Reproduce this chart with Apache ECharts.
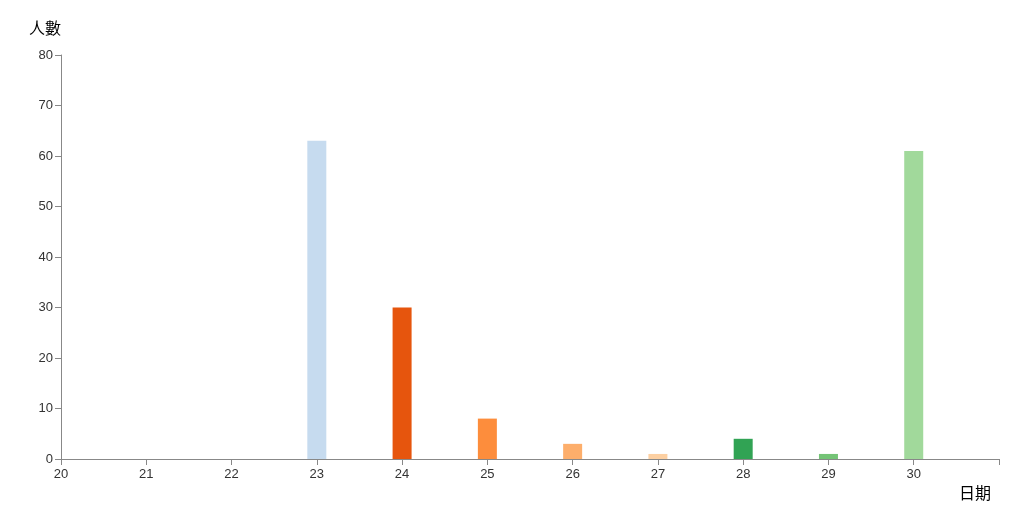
<!DOCTYPE html>
<html>
<head>
<meta charset="utf-8">
<script src="https://cdn.jsdelivr.net/npm/echarts@6/dist/echarts.min.js"></script>
<style>
  html, body { margin: 0; padding: 0; background: #fff; }
  #chart { width: 1024px; height: 526px; }
</style>
</head>
<body>
<div id="chart"></div>
<script>
const days = [21, 22, 23, 24, 25, 26, 27, 28, 29, 30]
const counts = [0, 0, 63, 30, 8, 3, 1, 4, 1, 61]
const barColors = ["#3182bd", "#6baed6", "#c6dbef", "#e6550d", "#fd8d3c", "#fdae6b", "#fdd0a2", "#31a354", "#74c476", "#a1d99b"]

const chart = echarts.init(document.getElementById("chart"))

const axisLine = { lineStyle: { color: "#888", width: 1 } }
const axisLabel = { color: "#333", fontSize: 13, fontFamily: "Liberation Sans, Arial, sans-serif" }

chart.setOption({
  animation: false,
  backgroundColor: "#fff",
  grid: { left: 61, right: 25, top: 55, bottom: 67, containLabel: false },
  xAxis: {
    type: "value",
    min: 20,
    max: 31,
    interval: 1,
    name: "日期",
    nameLocation: "end",
    nameGap: -8,
    nameTextStyle: {
      color: "#000", fontSize: 16, fontFamily: "Noto Sans CJK TC",
      align: "right", verticalAlign: "top", padding: [26, 0, 0, 0]
    },
    axisLine: axisLine,
    axisTick: { show: true, length: 6, lineStyle: { color: "#888" } },
    axisLabel: Object.assign({ margin: 9, formatter: v => (v > 30 ? "" : v) }, axisLabel),
    splitLine: { show: false }
  },
  yAxis: {
    type: "value",
    min: 0,
    max: 80,
    interval: 10,
    name: "人數",
    nameLocation: "end",
    nameGap: 19,
    nameTextStyle: {
      color: "#000", fontSize: 16, fontFamily: "Noto Sans CJK TC",
      align: "center", padding: [0, 32, 0, 0]
    },
    axisLine: { show: true, lineStyle: { color: "#888", width: 1 } },
    axisTick: { show: true, length: 6, lineStyle: { color: "#888" } },
    axisLabel: Object.assign({ margin: 8 }, axisLabel),
    splitLine: { show: false }
  },
  series: [{
    type: "bar",
    barWidth: 19,
    data: days.map((d, i) => ({
      value: [d, counts[i]],
      itemStyle: { color: barColors[i] }
    }))
  }]
})
</script>
</body>
</html>
